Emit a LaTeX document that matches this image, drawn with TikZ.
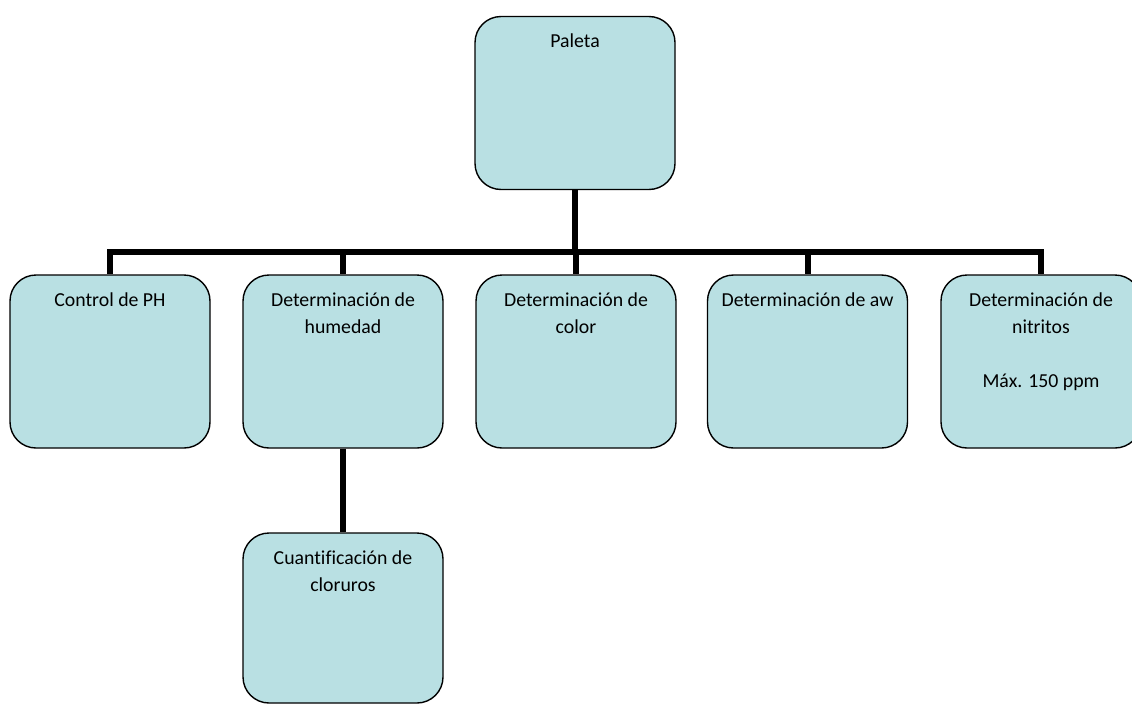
\documentclass[tikz,border=0pt]{standalone}
\usepackage{fontspec}
\setmainfont[Ligatures={NoCommon}]{Carlito}
\definecolor{boxfill}{RGB}{185,224,227}
\tikzset{
  card/.style={draw=black, line width=1.4pt, fill=boxfill, rounded corners=26pt,
    inner sep=0pt, minimum width=200pt, minimum height=#1},
  card/.default=173pt,
  conn/.style={draw=black, line width=6pt},
}
\newcommand{\cardtext}[2]{\parbox[t][#1][t]{196pt}{\centering\vspace*{17.5pt}\fontsize{19.8pt}{27pt}\selectfont #2}}
\begin{document}
\begin{tikzpicture}[x=1pt,y=-1pt]
  \useasboundingbox (0,0) rectangle (1132,704);
  \clip (0,0) rectangle (1132,704);
  \coordinate (bus) at (575,252);
  % boxes
  \node[card] (paleta) at (575,103) {\cardtext{173pt}{Paleta}};
  \node[card] (ph) at (110,361.5) {\cardtext{173pt}{Control de PH}};
  \node[card] (hum) at (343,361.5) {\cardtext{173pt}{Determinación de\\humedad}};
  \node[card] (col) at (576,361.5) {\cardtext{173pt}{Determinación de\\color}};
  \node[card] (aw) at (807.5,361.5) {\cardtext{173pt}{Determinación de aw}};
  \node[card] (nit) at (1041,361.5) {\cardtext{173pt}{Determinación de\\nitritos\\[27pt]Máx. 150 ppm}};
  \node[card=170pt] (clo) at (343,618) {\cardtext{170pt}{Cuantificación de\\cloruros}};
  % connectors
  \draw[conn] (paleta.south) -- (bus);
  \draw[conn] (bus) -| (ph.north);
  \draw[conn] (bus) -| (hum.north);
  \draw[conn] (bus) -| (col.north);
  \draw[conn] (bus) -| (aw.north);
  \draw[conn] (bus) -| (nit.north);
  \draw[conn] (hum.south) -- (clo.north);
\end{tikzpicture}
\end{document}
